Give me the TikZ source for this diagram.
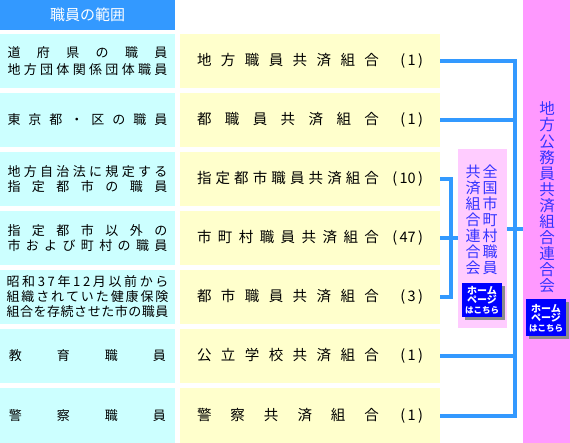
\documentclass[tikz,border=0pt]{standalone}
\usepackage{fontspec}
\setmainfont{Noto Sans CJK JP}
\usetikzlibrary{shadows}
\definecolor{hdr}{RGB}{51,153,255}
\definecolor{cy}{RGB}{204,255,255}
\definecolor{ye}{RGB}{255,255,204}
\definecolor{pkA}{RGB}{255,204,255}
\definecolor{pkB}{RGB}{255,153,255}
\definecolor{btn}{RGB}{0,0,255}
\definecolor{vtxt}{RGB}{51,51,255}
\makeatletter
\newcommand\spreadw[2]{\makebox[#1]{\spread@@#2\@nil}}
\def\spread@@#1#2\@nil{#1\ifx\relax#2\relax\else\hfill\spread@@#2\@nil\fi}
\makeatother
\newcommand\yel[2]{\makebox[226pt]{\spreadw{182pt}{#1}\hfill(\,#2\,)}}
\begin{document}
\begin{tikzpicture}[x=1pt,y=-1pt,
  box/.style={anchor=north west, inner sep=0pt, outer sep=0pt},
  cyanbox/.style={box, fill=cy, minimum width=175pt, minimum height=54pt,
    font=\fontsize{13}{15}\selectfont, align=center},
  yelbox/.style={box, fill=ye, minimum width=260pt, minimum height=54pt,
    font=\fontsize{14.5}{16}\selectfont},
  conn/.style={draw=hdr, line width=4pt, line join=miter},
  btnbox/.style={fill=btn, text=white, inner sep=0pt, align=center,
    drop shadow={shadow xshift=3pt, shadow yshift=-3pt, fill=black!45, opacity=1},
    font=\bfseries\fontsize{10}{9.5}\selectfont},
  vtext/.style={text=vtxt, align=center, inner sep=0pt}
]
\useasboundingbox (0,0) rectangle (570,443);
\fill[white] (0,0) rectangle (570,443);

% header
\node[box, fill=hdr, minimum width=175pt, minimum height=30pt, text=white,
  font=\fontsize{15}{15}\selectfont] (h) at (0,0) {職員の範囲};

% left column
\node[cyanbox, font=\fontsize{13}{17}\selectfont] (l1) at (0,34)
  {\spreadw{160pt}{道府県の職員}\\\spreadw{160pt}{地方団体関係団体職員}};
\node[cyanbox] (l2) at (0,93) {\spreadw{160pt}{東京都・区の職員}};
\node[cyanbox] (l3) at (0,152)
  {\spreadw{160pt}{地方自治法に規定する}\\\spreadw{160pt}{指定都市の職員}};
\node[cyanbox] (l4) at (0,211)
  {\spreadw{160pt}{指定都市以外の}\\\spreadw{160pt}{市および町村の職員}};
\node[cyanbox] (l5) at (0,270)
  {\spreadw{162pt}{昭和37年12月以前から}\\\spreadw{162pt}{組織されていた健康保険}\\\spreadw{162pt}{組合を存続させた市の職員}};
\node[cyanbox] (l6) at (0,329) {\spreadw{157pt}{教育職員}};
\node[cyanbox, minimum height=55pt] (l7) at (0,388) {\spreadw{157pt}{警察職員}};

% yellow column
\node[yelbox] (y1) at (180,34) {\yel{地方職員共済組合}{1}};
\node[yelbox] (y2) at (180,93) {\yel{都職員共済組合}{1}};
\node[yelbox] (y3) at (180,152) {\yel{指定都市職員共済組合}{10}};
\node[yelbox] (y4) at (180,211) {\yel{市町村職員共済組合}{47}};
\node[yelbox] (y5) at (180,270) {\yel{都市職員共済組合}{3}};
\node[yelbox] (y6) at (180,329) {\yel{公立学校共済組合}{1}};
\node[yelbox, minimum height=55pt] (y7) at (180,388) {\yel{警察共済組合}{1}};

% federation boxes
\node[box, fill=pkB, minimum width=47pt, minimum height=443pt] (b) at (523,0) {};
\node[box, fill=pkA, minimum width=49pt, minimum height=179pt] (m) at (458,149) {};

\node[vtext, font=\fontsize{15}{16}\selectfont] (mR) at (490,220)
  {全\\国\\市\\町\\村\\職\\員};
\node[vtext, font=\fontsize{15}{16}\selectfont] (mL) at (473,220)
  {共\\済\\組\\合\\連\\合\\会};
\node[vtext, font=\fontsize{15.5}{16.1}\selectfont] (bt) at (547,197.5)
  {地\\方\\公\\務\\員\\共\\済\\組\\合\\連\\合\\会};

\node[btnbox, minimum width=40pt, minimum height=34pt] (mb) at (482,300)
  {ホーム\\ページ\\{\fontsize{8.5}{9}\selectfont はこちら}};
\node[btnbox, minimum width=40pt, minimum height=37pt] (bb) at (546,318)
  {ホーム\\ページ\\{\fontsize{8.5}{9}\selectfont はこちら}};

% connectors
\coordinate (vx) at (515,0);
\coordinate (vb) at (451,0);
\coordinate (mj) at (0,229);
\draw[conn] (y1.east) -- (y1.east -| vx) -- (y7.east -| vx) -- (y7.east);
\draw[conn] (y2.east) -- (y2.east -| vx);
\draw[conn] (y6.east) -- (y6.east -| vx);
\draw[conn] (y3.east) -- (y3.east -| vb) -- (y5.east -| vb) -- (y5.east);
\draw[conn] (y4.east) -- (y4.east -| m.west);
\draw[conn] (m.east |- mj) -- (b.west |- mj);
\end{tikzpicture}
\end{document}
